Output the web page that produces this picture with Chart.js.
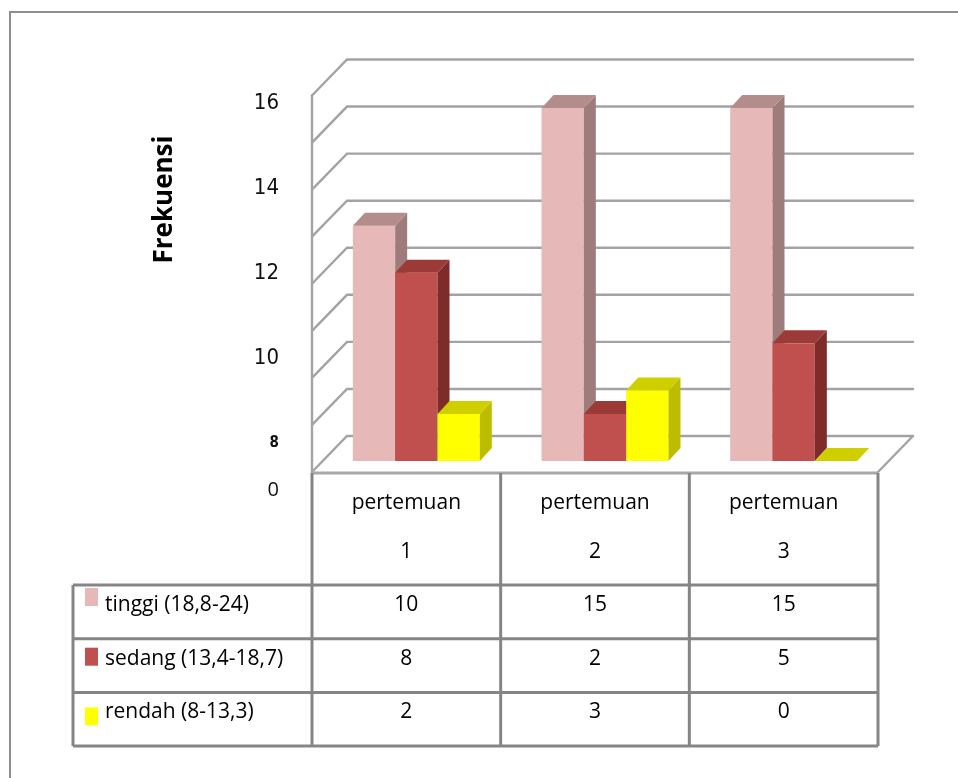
<!DOCTYPE html>
<html>
<head>
<meta charset="utf-8">
<script src="https://cdn.jsdelivr.net/npm/chart.js@4/dist/chart.umd.min.js"></script>
<style>
  html, body { margin: 0; padding: 0; background: #ffffff; }
  #wrap { width: 958px; height: 778px; position: relative; }
</style>
</head>
<body>
<div id="wrap"><canvas id="c" width="958" height="778"></canvas></div>
<script>
// ---- data ----
const categories = ['pertemuan 1', 'pertemuan 2', 'pertemuan 3'];
const headerLine1 = ['pertemuan', 'pertemuan', 'pertemuan'];
const headerLine2 = ['1', '2', '3'];
const seriesNames = ['tinggi (18,8-24)', 'sedang (13,4-18,7)', 'rendah (8-13,3)'];
const tinggi = [10, 15, 15];
const sedang = [8, 2, 5];
const rendah = [2, 3, 0];
// printed value axis labels (the lowest printed label reads "0")
const axisTickValues = [8, 10, 12, 14, 16];
const axisBottomLabel = '0';
const axisTitle = 'Frekuensi';

// ---- look ----
const WALL = { x: 35, y: -36 };      // depth of the back wall
const BAR_SHIFT = { x: 10, y: -11 }; // bars stand a little behind the front edge
const BAR_DEPTH = { x: 12, y: -13 };
const LABEL_AXIS = { min: 6.894, max: 16.176 };
const TABLE = { legendLeft: 73, headerBottom: 585, rowH: 53.7, line1: 503, line2: 552 };

const fronts = ['#E6B9B8', '#C0504D', '#FFFF00'];
const sides  = ['#9E7C7C', '#7E2C2A', '#BDBD00'];
const tops   = ['#B38C8C', '#9C3A37', '#CFCF00'];
const seriesData = [tinggi, sedang, rendah];

const datasets = seriesData.map((d, i) => ({
  label: seriesNames[i],
  data: d,
  backgroundColor: fronts[i],
  borderWidth: 0
}));

// back wall, side wall and floor outline
const wallPlugin = {
  id: 'wall',
  beforeDatasetsDraw(chart) {
    const { ctx: c, chartArea: a, scales: { y } } = chart;
    const vals = y.ticks.map(t => t.value).filter(v => v >= 0);
    const p0 = y.getPixelForValue(0);
    const pTop = y.getPixelForValue(y.max);
    c.save();
    c.lineCap = 'round';
    c.strokeStyle = '#A3A3A3';
    c.lineWidth = 2.4;
    vals.forEach(v => {
      const py = y.getPixelForValue(v);
      c.beginPath();
      c.moveTo(a.left, py);
      c.lineTo(a.left + WALL.x, py + WALL.y);
      c.lineTo(a.right + WALL.x, py + WALL.y);
      c.stroke();
    });
    c.beginPath();
    c.moveTo(a.left, pTop);
    c.lineTo(a.left, p0);
    c.stroke();
    c.beginPath();
    c.moveTo(a.right, p0);
    c.lineTo(a.right + WALL.x, p0 + WALL.y);
    c.stroke();
    c.restore();
  }
};

// bars drawn as boxes: front, right side and top, series left to right
const barsPlugin = {
  id: 'bars3d',
  beforeDatasetDraw() {
    return false;
  },
  afterDatasetsDraw(chart) {
    const c = chart.ctx;
    c.save();
    c.translate(BAR_SHIFT.x, BAR_SHIFT.y);
    chart.data.datasets.forEach((ds, i) => {
      const meta = chart.getDatasetMeta(i);
      meta.data.forEach(el => {
        const { x, y, base, width } = el.getProps(['x', 'y', 'base', 'width'], true);
        const l = x - width / 2, r = x + width / 2;
        c.fillStyle = fronts[i];
        c.fillRect(l, y, width, base - y);
        c.fillStyle = sides[i];
        c.beginPath();
        c.moveTo(r, y);
        c.lineTo(r + BAR_DEPTH.x, y + BAR_DEPTH.y);
        c.lineTo(r + BAR_DEPTH.x, base + BAR_DEPTH.y);
        c.lineTo(r, base);
        c.closePath();
        c.fill();
        c.fillStyle = tops[i];
        c.beginPath();
        c.moveTo(l, y);
        c.lineTo(l + BAR_DEPTH.x, y + BAR_DEPTH.y);
        c.lineTo(r + BAR_DEPTH.x, y + BAR_DEPTH.y);
        c.lineTo(r, y);
        c.closePath();
        c.fill();
      });
    });
    c.restore();
  }
};

// data table under the plot, axis title and frame
const tablePlugin = {
  id: 'table',
  afterDraw(chart) {
    const { ctx: c, chartArea: a, scales: { x, y } } = chart;
    const n = categories.length;
    const colW = (a.right - a.left) / n;
    const top = y.getPixelForValue(0) + 1;
    const bottom = TABLE.headerBottom + TABLE.rowH * seriesNames.length;
    c.save();

    // frame
    c.strokeStyle = '#8E8E8E';
    c.lineWidth = 2;
    c.beginPath();
    c.moveTo(10, 778);
    c.lineTo(10, 12);
    c.lineTo(958, 12);
    c.stroke();

    // floor front edge
    c.strokeStyle = '#A8A8A8';
    c.lineWidth = 3;
    c.beginPath();
    c.moveTo(a.left, top);
    c.lineTo(a.right, top);
    c.stroke();

    c.strokeStyle = '#858585';
    c.lineWidth = 3;
    for (let i = 0; i <= n; i++) {
      const px = a.left + colW * i;
      c.beginPath();
      c.moveTo(px, top);
      c.lineTo(px, bottom);
      c.stroke();
    }
    c.beginPath();
    c.moveTo(TABLE.legendLeft, TABLE.headerBottom);
    c.lineTo(TABLE.legendLeft, bottom);
    c.stroke();
    for (let r = 0; r <= seriesNames.length; r++) {
      const py = TABLE.headerBottom + TABLE.rowH * r;
      c.beginPath();
      c.moveTo(TABLE.legendLeft, py);
      c.lineTo(a.right, py);
      c.stroke();
    }

    // header
    c.fillStyle = '#000000';
    c.font = '21px "Open Sans"';
    c.textAlign = 'center';
    c.textBaseline = 'middle';
    categories.forEach((cat, i) => {
      const cx = x.getPixelForValue(i);
      c.fillText(headerLine1[i], cx, TABLE.line1);
      c.fillText(headerLine2[i], cx, TABLE.line2);
    });

    // rows
    seriesNames.forEach((name, r) => {
      const rowTop = TABLE.headerBottom + TABLE.rowH * r;
      const ty = rowTop + TABLE.rowH / 2 - 7;
      c.textAlign = 'center';
      seriesData[r].forEach((v, i) => {
        c.fillText(String(v), x.getPixelForValue(i), ty);
      });
      c.textAlign = 'left';
      c.fillText(name, 105, ty);
      c.fillStyle = fronts[r];
      c.fillRect(85, rowTop + 3 + r * 6, 13, 18);
      c.fillStyle = '#000000';
    });

    // axis title
    c.save();
    c.translate(165, a.top + 104);
    c.rotate(-Math.PI / 2);
    c.font = 'bold 26px "Open Sans"';
    c.textAlign = 'center';
    c.textBaseline = 'middle';
    c.fillText(axisTitle, 0, 0);
    c.restore();

    c.restore();
  }
};

new Chart(document.getElementById('c'), {
  type: 'bar',
  data: { labels: categories, datasets },
  options: {
    responsive: false,
    animation: false,
    devicePixelRatio: 1,
    layout: { padding: { top: 95.5, right: 80, bottom: 288, left: 0 } },
    plugins: { legend: { display: false }, tooltip: { enabled: false } },
    datasets: { bar: { categoryPercentage: 0.673, barPercentage: 1 } },
    scales: {
      x: { display: false, offset: true },
      y: { display: false, min: -0.765, max: 16, ticks: { stepSize: 2 } },
      yl: {
        position: 'left',
        min: LABEL_AXIS.min,
        max: LABEL_AXIS.max,
        grid: { display: false },
        border: { display: false },
        afterBuildTicks(s) {
          s.ticks = [LABEL_AXIS.min, ...axisTickValues].map(v => ({ value: v }));
        },
        afterFit(s) { s.width = 312; },
        ticks: {
          autoSkip: false,
          padding: 25,
          color: '#111111',
          font: (ctx) => {
            const v = ctx.tick ? ctx.tick.value : null;
            if (v === LABEL_AXIS.min) return { family: 'Open Sans', size: 20 };
            if (v === axisTickValues[0]) return { family: 'DejaVu Sans Condensed', size: 15, weight: 'bold' };
            return { family: 'DejaVu Sans Condensed', size: 22 };
          },
          callback: (v) => (v === LABEL_AXIS.min ? axisBottomLabel : String(v))
        }
      }
    }
  },
  plugins: [wallPlugin, barsPlugin, tablePlugin]
});
</script>
</body>
</html>
